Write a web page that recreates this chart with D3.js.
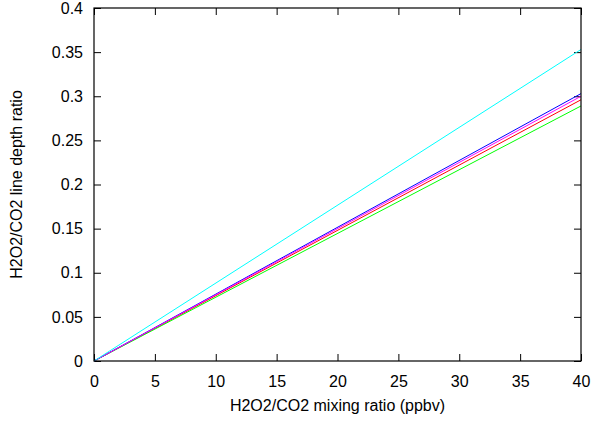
<!DOCTYPE html>
<html>
<head>
<meta charset="utf-8">
<script src="https://cdn.jsdelivr.net/npm/d3@7"></script>
<style>
  body { margin: 0; background: #fff; }
  svg text { font-family: "Liberation Sans", Arial, sans-serif; }
</style>
</head>
<body>
<div id="chart"></div>
<script>
// mixing ratio (ppbv) at both ends of each line
const mixing = [0, 40];
const seriesNames = ["red", "green", "blue", "magenta", "cyan"];
const seriesColors = ["#ff0000", "#00ff00", "#0000ff", "#ff00ff", "#00ffff"];
const depthRed = [0, 0.296];
const depthGreen = [0, 0.289];
const depthBlue = [0, 0.303];
const depthMagenta = [0, 0.300];
const depthCyan = [0, 0.353];
const xTicks = [0, 5, 10, 15, 20, 25, 30, 35, 40];
const yTicks = [0, 0.05, 0.1, 0.15, 0.2, 0.25, 0.3, 0.35, 0.4];

const series = [depthRed, depthGreen, depthBlue, depthMagenta, depthCyan];

const width = 593, height = 421;
const margin = { top: 8, right: 12, bottom: 60, left: 94 };

const svg = d3.select("#chart").append("svg")
    .attr("width", width)
    .attr("height", height);

const x = d3.scaleLinear()
    .domain([0, 40])
    .range([margin.left, width - margin.right]);

const y = d3.scaleLinear()
    .domain([0, 0.4])
    .range([height - margin.bottom, margin.top]);

const fmtY = d => d === 0 ? "0" : d3.format("~g")(d);

// axes, ticks pointing inward (gnuplot style), mirrored on top/right
svg.append("g")
    .attr("transform", `translate(0,${y(0)})`)
    .call(d3.axisBottom(x).tickValues(xTicks).tickSizeInner(-7).tickSizeOuter(0).tickPadding(15))
    .call(g => g.select(".domain").remove())
    .selectAll("text").style("font-size", "16px").attr("fill", "#000");

svg.append("g")
    .attr("transform", `translate(${x(0)},0)`)
    .call(d3.axisLeft(y).tickValues(yTicks).tickFormat(fmtY).tickSizeInner(-7).tickSizeOuter(0).tickPadding(11))
    .call(g => g.select(".domain").remove())
    .selectAll("text").style("font-size", "16px").attr("fill", "#000");

svg.append("g")
    .attr("transform", `translate(0,${y(0.4)})`)
    .call(d3.axisTop(x).tickValues(xTicks).tickSizeInner(-7).tickSizeOuter(0).tickFormat(""))
    .call(g => g.select(".domain").remove());

svg.append("g")
    .attr("transform", `translate(${x(40)},0)`)
    .call(d3.axisRight(y).tickValues(yTicks).tickSizeInner(-7).tickSizeOuter(0).tickFormat(""))
    .call(g => g.select(".domain").remove());

// lines
const line = d3.line()
    .x((d, i) => x(mixing[i]))
    .y(d => y(d));

svg.append("g")
    .selectAll("path")
    .data(series)
    .join("path")
    .attr("d", line)
    .attr("fill", "none")
    .attr("stroke", (d, i) => seriesColors[i])
    .attr("stroke-width", 1);

// frame
svg.append("rect")
    .attr("x", x(0))
    .attr("y", y(0.4))
    .attr("width", x(40) - x(0))
    .attr("height", y(0) - y(0.4))
    .attr("fill", "none")
    .attr("stroke", "#000")
    .attr("stroke-width", 1.2);

// axis titles
svg.append("text")
    .attr("x", (x(0) + x(40)) / 2)
    .attr("y", 411)
    .attr("text-anchor", "middle")
    .style("font-size", "16px")
    .text("H2O2/CO2 mixing ratio (ppbv)");

svg.append("text")
    .attr("transform", "rotate(-90)")
    .attr("x", -(y(0) + y(0.4)) / 2)
    .attr("y", 22)
    .attr("text-anchor", "middle")
    .style("font-size", "16px")
    .text("H2O2/CO2 line depth ratio");
</script>
</body>
</html>
